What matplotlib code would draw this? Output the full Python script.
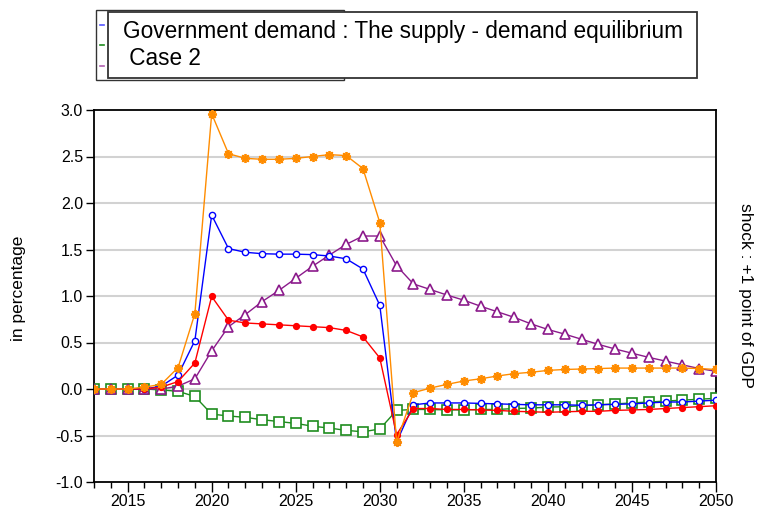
import matplotlib
matplotlib.use("Agg")
import matplotlib.pyplot as plt
from matplotlib.patches import Rectangle
from matplotlib.lines import Line2D
import numpy as np

plt.rcParams['font.family'] = ['Liberation Sans', 'DejaVu Sans']

years = list(range(2013, 2051))

blue = [0, 0, 0, 0, 0.03, 0.15, 0.52, 1.87, 1.51, 1.47, 1.455, 1.45, 1.45, 1.445,
        1.43, 1.40, 1.29, 0.90, -0.57, -0.17, -0.15, -0.15, -0.15, -0.155, -0.16,
        -0.165, -0.17, -0.17, -0.17, -0.175, -0.17, -0.165, -0.16, -0.15, -0.14,
        -0.14, -0.13, -0.12]

green = [0, 0, 0, 0, -0.01, -0.025, -0.08, -0.27, -0.29, -0.305, -0.33, -0.35,
         -0.37, -0.40, -0.42, -0.445, -0.46, -0.43, -0.23, -0.22, -0.22, -0.225,
         -0.225, -0.22, -0.22, -0.21, -0.205, -0.195, -0.19, -0.18, -0.17, -0.16,
         -0.15, -0.14, -0.13, -0.12, -0.11, -0.10]

purple = [0, 0, 0, 0, 0, 0.03, 0.11, 0.41, 0.67, 0.80, 0.94, 1.06, 1.19, 1.32,
          1.44, 1.555, 1.645, 1.645, 1.325, 1.13, 1.07, 1.01, 0.955, 0.89, 0.83,
          0.77, 0.70, 0.64, 0.59, 0.535, 0.48, 0.43, 0.385, 0.34, 0.30, 0.26,
          0.22, 0.19]

red = [0, 0, 0, 0, 0.02, 0.08, 0.28, 0.995, 0.74, 0.71, 0.70, 0.69, 0.68, 0.67,
       0.66, 0.63, 0.56, 0.334, -0.49, -0.21, -0.21, -0.22, -0.22, -0.225, -0.23,
       -0.24, -0.245, -0.25, -0.245, -0.24, -0.24, -0.23, -0.225, -0.22, -0.21,
       -0.20, -0.19, -0.18]

orange = [0, 0, 0, 0.02, 0.05, 0.23, 0.81, 2.96, 2.53, 2.48, 2.47, 2.47, 2.48,
          2.50, 2.52, 2.51, 2.37, 1.79, -0.57, -0.04, 0.01, 0.05, 0.086, 0.11,
          0.14, 0.165, 0.18, 0.20, 0.21, 0.215, 0.22, 0.225, 0.225, 0.225, 0.225,
          0.225, 0.22, 0.21]

title_text = "Government demand : The supply - demand equilibrium\n Case 2"
ylabel_text = "in percentage"
right_text = "shock : +1 point of GDP"

fig = plt.figure(figsize=(7.58, 5.16), dpi=100)
ax = fig.add_axes([94 / 758, 1 - 482 / 516, 622 / 758, 372 / 516])

ax.plot(years, blue, color='#0000ff', lw=1.0, marker='o', ms=4.5,
        mfc='white', mec='#0000ff', mew=1.0, zorder=4)
ax.plot(years, green, color='#1e8c1e', lw=1.0, marker='s', ms=6.5,
        mfc='white', mec='#1e8c1e', mew=1.2, zorder=3)
ax.plot(years, purple, color='#8b1a8b', lw=1.0, marker='^', ms=7,
        mfc='white', mec='#8b1a8b', mew=1.2, zorder=3)
ax.plot(years, red, color='#ff0000', lw=1.0, marker='o', ms=4.2,
        mfc='#ff0000', mec='#ff0000', zorder=4)
ax.plot(years, orange, color='#ff8c00', lw=1.0, marker=(8, 2, 0), ms=6.5,
        mfc='#ff8c00', mec='#ff8c00', mew=1.3, zorder=4)

ax.set_xlim(2013, 2050)
ax.set_ylim(-1.0, 3.0)
ax.set_yticks(np.arange(-1.0, 3.01, 0.5))
ax.set_yticklabels([f"{v:.1f}" for v in np.arange(-1.0, 3.01, 0.5)])
ax.set_xticks(range(2015, 2051, 5))
ax.set_xticks(range(2013, 2051), minor=True)

for v in np.arange(-0.5, 2.51, 0.5):
    ax.axhline(v, color='#d2d2d2', lw=1.5, zorder=1)

ax.tick_params(axis='y', which='major', direction='out', length=6, width=1,
               labelsize=11.5, pad=2)
ax.tick_params(axis='x', which='major', direction='out', length=7, width=1,
               labelsize=11.5, pad=2)
ax.tick_params(axis='x', which='minor', direction='out', length=4.5, width=1)
ax.tick_params(top=False, right=False)
for s in ax.spines.values():
    s.set_linewidth(1.3)
    s.set_color('black')

ax.set_ylabel(ylabel_text, fontsize=12.5)
ax.yaxis.set_label_coords((26 - 94) / 622, (482 - 288) / 372)
fig.text(746 / 758, 1 - 295 / 516, right_text, rotation=-90, fontsize=12.5,
         ha='center', va='center')

# legend frame behind the title box
fig.patches.append(Rectangle((96 / 758, 1 - 80 / 516), 248 / 758, 70 / 516,
                             transform=fig.transFigure, fill=True, fc='white',
                             ec='#333333', lw=1.0, zorder=1))
for yy, col in [(25, '#5555ff'), (45, '#1e8c1e'), (66, '#b060b0')]:
    fig.lines.append(Line2D([100 / 758, 104 / 758], [1 - yy / 516, 1 - yy / 516],
                            transform=fig.transFigure, color=col, lw=1.2,
                            zorder=2))

# title box
fig.patches.append(Rectangle((108 / 758, 1 - 78 / 516), 589 / 758, 66 / 516,
                             transform=fig.transFigure, fill=True, fc='white',
                             ec='#333333', lw=1.3, zorder=3))
fig.text(123 / 758, 1 - 45 / 516, title_text, fontsize=16.3, ha='left',
         va='center', linespacing=1.22, zorder=4)

fig.savefig("out.png", dpi=100)
